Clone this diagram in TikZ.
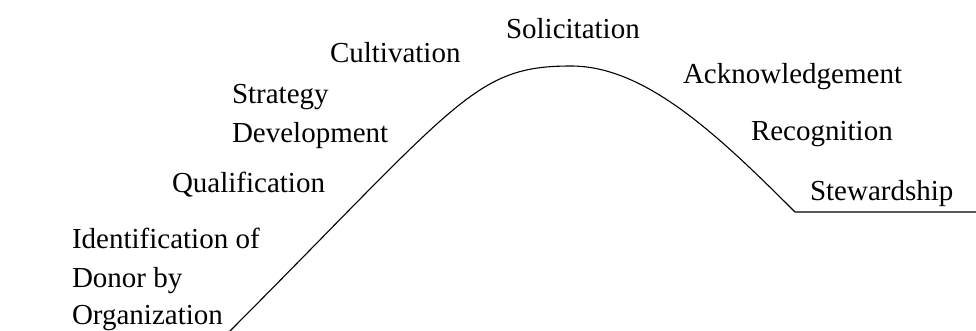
\documentclass[tikz,border=0pt]{standalone}
\usepackage{fontspec}
\setmainfont{Liberation Serif}
\begin{document}
\begin{tikzpicture}[x=1pt,y=-1pt,
  lbl/.style={inner sep=0pt,outer sep=0pt,anchor=base west,font=\fontsize{29}{38}\selectfont},
  curveline/.style={line width=1.1pt,black,line join=round}]
\useasboundingbox (0,0) rectangle (976,330);
% labels
\node[lbl] (sol) at (506,38) {Solicitation};
\node[lbl] (cul) at (330,62) {Cultivation};
\node[lbl] (ack) at (683,83) {Acknowledgement};
\node[lbl] (str1) at (232,103) {Strategy};
\node[lbl] (str2) at (232,142) {Development};
\node[lbl] (rec) at (751,140) {Recognition};
\node[lbl] (qua) at (172,192) {Qualification};
\node[lbl] (stew) at (810,200) {Stewardship};
\node[lbl] (id1) at (72,248) {Identification of};
\node[lbl] (id2) at (72,287) {Donor by};
\node[lbl] (id3) at (72,324) {Organization};
% curve
\coordinate (start) at (230,331);
\coordinate (peak) at (571,66);
\coordinate (foot) at (795,212);
\coordinate (endr) at (976,212);
\draw[curveline] (start) .. controls (460,100) and (475,66) .. (peak)
  .. controls (645,66) and (717,134) .. (foot) -- (endr);
\end{tikzpicture}
\end{document}
